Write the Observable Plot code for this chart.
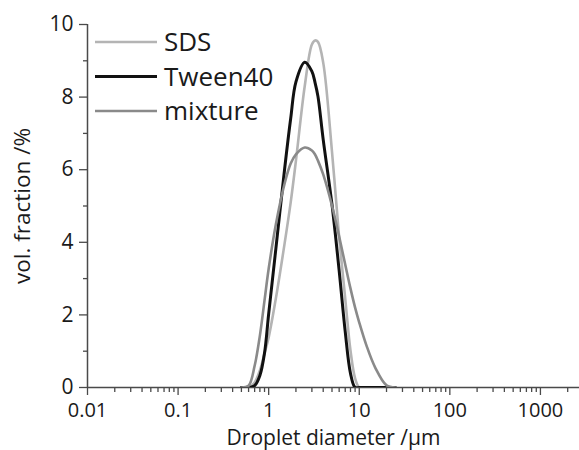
<!DOCTYPE html>
<html><head><meta charset="utf-8">
<script src="https://cdn.jsdelivr.net/npm/d3@7"></script>
<script src="https://cdn.jsdelivr.net/npm/@observablehq/plot@0.6"></script>
<style>
html,body{margin:0;padding:0;background:#fff;}
#chart{position:relative;width:579px;height:450px;font-family:"Open Sans",sans-serif;}
#legend{position:absolute;left:0;top:0;}
</style></head><body><div id="chart"></div>
<script>
const diameters = [0.5,0.6,0.7,0.8,0.9,1,1.2,1.5,1.75,2,2.5,3,3.25,3.5,4,5,6,7,8,9,10,12,15,20,25];
const sds      = [0,0,0.14,0.47,0.94,1.38,2.45,3.97,5.1,6.25,8.3,9.45,9.56,9.52,8.95,6.5,4.13,2.45,1.02,0.25,0,0,0,0,0];
const tween40  = [0,0,0.05,0.33,0.95,2.03,3.82,6.02,7.41,8.42,8.96,8.71,8.4,8.02,6.83,5.04,3.22,1.54,0.39,0,0,0,0,0,0];
const mixture  = [0,0.05,0.6,1.43,2.4,3.27,4.49,5.62,6.17,6.42,6.61,6.53,6.42,6.25,5.87,5.01,4.16,3.39,2.73,2.2,1.79,1.16,0.55,0.06,0];
const seriesNames = ["SDS","Tween40","mixture"];
const seriesColors = ["#b4b4b4","#111111","#8a8a8a"];
const seriesWidths = [2.6,3,2.6];
const xMajorTicks = [0.01,0.1,1,10,100,1000];
const xTickLabels = ["0.01","0.1","1","10","100","1000"];
const xMinorTicks = [0.02,0.03,0.04,0.05,0.06,0.07,0.08,0.09,0.2,0.3,0.4,0.5,0.6,0.7,0.8,0.9,2,3,4,5,6,7,8,9,20,30,40,50,60,70,80,90,200,300,400,500,600,700,800,900,2000];
const yMajorTicks = [0,2,4,6,8,10];
const yTickLabels = ["0","2","4","6","8","10"];
const yMinorTicks = [1,3,5,7,9];
const xTitle = "Droplet diameter /µm";
const yTitle = "vol. fraction /%";

const seriesValues = [sds, tween40, mixture];
const rows = [];
seriesNames.forEach((name, k) => {
  diameters.forEach((d, i) => rows.push({series: name, d, v: seriesValues[k][i]}));
});

const axisColor = "#4a4a4a";
const textColor = "#1a1a1a";
const plot = Plot.plot({
  width: 579, height: 450,
  marginLeft: 87, marginRight: 0, marginTop: 24, marginBottom: 63,
  style: {fontFamily: '"Open Sans", sans-serif', fontSize: "21px", color: textColor, background: "#fff", overflow: "visible"},
  x: {type: "log", domain: [0.01, 2700], label: null},
  y: {domain: [0, 10], label: null},
  marks: [
    Plot.axisY(yMinorTicks, {tickSize: 4, stroke: axisColor, fill: "none", label: null, strokeWidth: 1.3}),
    Plot.axisY(yMajorTicks, {tickSize: 8, tickPadding: 6, stroke: axisColor, strokeWidth: 1.3, label: null, fontSize: 21, tickFormat: d => yTickLabels[yMajorTicks.indexOf(d)]}),
    Plot.axisX(xMinorTicks, {tickSize: 5, stroke: axisColor, fill: "none", label: null, strokeWidth: 1.3}),
    Plot.axisX(xMajorTicks, {tickSize: 8, tickPadding: 7, stroke: axisColor, strokeWidth: 1.3, label: null, fontSize: 20, tickFormat: d => xTickLabels[xMajorTicks.indexOf(d)]}),
    Plot.ruleY([0], {stroke: axisColor, strokeWidth: 1.5}),
    Plot.ruleX([0.01], {stroke: axisColor, strokeWidth: 1.5}),
    ...seriesNames.map((name, k) => Plot.line(rows.filter(r => r.series === name), {
      x: "d", y: "v", stroke: seriesColors[k], strokeWidth: seriesWidths[k], curve: "catmull-rom", clip: "frame"
    })),
    Plot.text([xTitle], {text: d => d, frameAnchor: "bottom", lineAnchor: "middle", textAnchor: "middle", dy: 50.5, fontSize: 21, fill: textColor}),
    Plot.text([yTitle], {text: d => d, frameAnchor: "left", lineAnchor: "middle", textAnchor: "middle", dx: -65, rotate: -90, fontSize: 22.5, fill: textColor})
  ]
});
const chart = document.getElementById("chart");
chart.appendChild(plot);

// legend overlay
const lg = d3.select(chart).append("svg").attr("id", "legend").attr("width", 300).attr("height", 140)
  .style("font-family", '"Open Sans", sans-serif');
seriesNames.forEach((name, k) => {
  const y = 42 + k * 34.5;
  lg.append("line").attr("x1", 95).attr("x2", 157).attr("y1", y).attr("y2", y)
    .attr("stroke", seriesColors[k]).attr("stroke-width", seriesWidths[k]);
  lg.append("text").attr("x", 164).attr("y", y).attr("dy", "0.35em")
    .attr("font-size", 26).attr("fill", textColor).text(name);
});
</script></body></html>
